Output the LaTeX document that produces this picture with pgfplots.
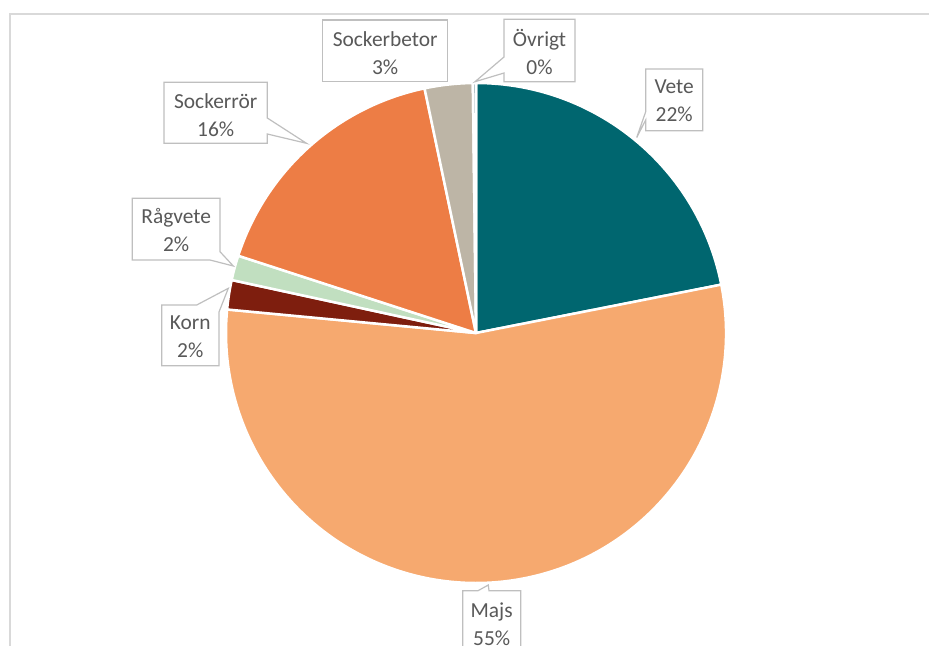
\documentclass[border=0pt]{standalone}
\usepackage{pgfplots}
\pgfplotsset{compat=1.18}
\usepackage{pgfplotstable}
\usepackage{fontspec}
\setmainfont{Carlito}
\definecolor{slice0}{HTML}{00666F}
\definecolor{slice1}{HTML}{F6A96F}
\definecolor{slice2}{HTML}{7E1E0E}
\definecolor{slice3}{HTML}{C1DFC0}
\definecolor{slice4}{HTML}{ED7D45}
\definecolor{slice5}{HTML}{BDB5A6}
\definecolor{slice6}{HTML}{8FA8B0}
\definecolor{boxgray}{HTML}{BFBFBF}
\definecolor{framegray}{HTML}{D9D9D9}
\definecolor{txtgray}{HTML}{595959}

% share of each crop (percent), clockwise from 12 o'clock
\pgfplotstableread[col sep=comma]{
crop,value
Vete,21.9
Majs,54.6
Korn,1.9
Rågvete,1.6
Sockerrör,16.7
Sockerbetor,3.1
Övrigt,0.2
}\piedata

\begin{document}
\begin{tikzpicture}
\gdef\cum{0}
\foreach \i in {0,...,6}{%
  \pgfplotstablegetelem{\i}{value}\of\piedata
  \let\myv\pgfplotsretval
  \pgfmathsetmacro\sa{90-3.6*\cum}%
  \pgfmathsetmacro\ea{90-3.6*(\cum+\myv)}%
  \expandafter\xdef\csname sa\i\endcsname{\sa}%
  \expandafter\xdef\csname ea\i\endcsname{\ea}%
  \pgfmathsetmacro\nc{\cum+\myv}%
  \xdef\cum{\nc}%
}
\begin{axis}[
  name=ax,
  width=929bp, height=646bp, scale only axis,
  xmin=0, xmax=929, ymin=0, ymax=646, y dir=reverse,
  enlargelimits=false, hide axis, clip=false,
]
% frame
\draw[framegray, line width=1.2bp] (axis cs:10,700) -- (axis cs:10,14) -- (axis cs:960,14);
% slices
\pgfplotsinvokeforeach{0,...,6}{
  \fill[slice#1, draw=white, line width=2.5bp, line join=round]
    (axis cs:476,333) -- ++(\csname sa#1\endcsname:250bp)
    arc[start angle=\csname sa#1\endcsname, end angle=\csname ea#1\endcsname, radius=250bp] -- cycle;
}
% callout boxes
\tikzset{callout/.style={fill=white, draw=boxgray, line width=1.2bp, line join=miter}}
% Vete
\draw[callout] (axis cs:645.7,69) -- (axis cs:702.7,69) -- (axis cs:702.7,130.7) -- (axis cs:645.7,130.7)
  -- (axis cs:645.7,120) -- (axis cs:636.7,137.5) -- (axis cs:645.7,111.7) -- cycle;
\node[font=\fontsize{21.5}{28}\selectfont, text=txtgray, align=center] at (axis cs:674.2,101) {Vete\\22\%};
% Övrigt
\draw[callout] (axis cs:504,19.3) -- (axis cs:575,19.3) -- (axis cs:575,81.7) -- (axis cs:504,81.7)
  -- (axis cs:504,73) -- (axis cs:475,81.7) -- (axis cs:504,57) -- cycle;
\node[font=\fontsize{21.5}{28}\selectfont, text=txtgray, align=center] at (axis cs:539.5,52) {Övrigt\\0\%};
% Sockerbetor
\draw[callout] (axis cs:322.7,20) rectangle (axis cs:447.7,81.7);
\node[font=\fontsize{21.5}{28}\selectfont, text=txtgray, align=center] at (axis cs:385.2,53) {Sockerbetor\\3\%};
% Sockerrör
\draw[callout] (axis cs:164,82.3) -- (axis cs:267.3,82.3) -- (axis cs:267.3,118) -- (axis cs:306.5,143.3)
  -- (axis cs:267.3,134) -- (axis cs:267.3,143.3) -- (axis cs:164,143.3) -- cycle;
\node[font=\fontsize{21.5}{28}\selectfont, text=txtgray, align=center] at (axis cs:215.7,115) {Sockerrör\\16\%};
% Rågvete
\draw[callout] (axis cs:132.3,198.3) -- (axis cs:220,198.3) -- (axis cs:220,251.7) -- (axis cs:233.3,266)
  -- (axis cs:210,260) -- (axis cs:132.3,260) -- cycle;
\node[font=\fontsize{21.5}{28}\selectfont, text=txtgray, align=center] at (axis cs:176.2,230) {Rågvete\\2\%};
% Korn
\draw[callout] (axis cs:161.7,305) -- (axis cs:196.7,305) -- (axis cs:228.3,288.3) -- (axis cs:219,312)
  -- (axis cs:219,365.7) -- (axis cs:161.7,365.7) -- cycle;
\node[font=\fontsize{21.5}{28}\selectfont, text=txtgray, align=center] at (axis cs:190.3,337) {Korn\\2\%};
% Majs
\draw[callout] (axis cs:462.7,700) -- (axis cs:462.7,590.7) -- (axis cs:478,590.7) -- (axis cs:488.3,585)
  -- (axis cs:489,590.7) -- (axis cs:520.7,590.7) -- (axis cs:520.7,700) -- cycle;
\node[font=\fontsize{21.5}{28}\selectfont, text=txtgray, align=center] at (axis cs:491.7,624) {Majs\\55\%};
\end{axis}
\pgfresetboundingbox
\useasboundingbox (ax.south west) rectangle (ax.north east);
\end{tikzpicture}
\end{document}
